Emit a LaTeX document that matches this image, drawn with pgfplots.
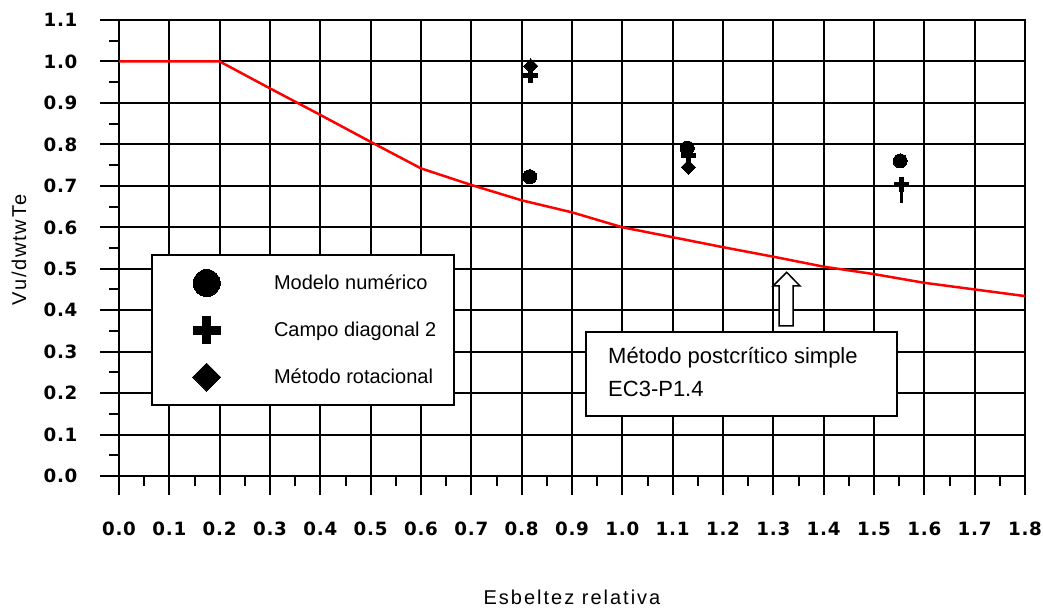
\documentclass[border=0pt]{standalone}
\usepackage{pgfplots}
\pgfplotsset{compat=1.18}
\usepackage{fontspec}
\setmainfont{Liberation Sans}
\newfontfamily\tickfont{DejaVu Sans}
\begin{document}
\begin{tikzpicture}[x=1pt,y=1pt]
\useasboundingbox (0,0) rectangle (1043,608);
\begin{axis}[
  at={(119pt,132pt)}, anchor=south west,
  scale only axis, width=906pt, height=456pt,
  xmin=0, xmax=1.8, ymin=0, ymax=1.1,
  xtick={0,0.1,0.2,0.3,0.4,0.5,0.6,0.7,0.8,0.9,1.0,1.1,1.2,1.3,1.4,1.5,1.6,1.7,1.8},
  ytick={0,0.1,0.2,0.3,0.4,0.5,0.6,0.7,0.8,0.9,1.0,1.1},
  minor x tick num=1, minor y tick num=1,
  grid=major, major grid style={black, line width=2pt},
  axis line style={line width=2pt},
  tick style={black, line width=2pt},
  major tick length=19pt, minor tick length=10pt,
  tick align=outside, tick pos=left,
  /pgf/number format/.cd, fixed, fixed zerofill, precision=1, assume math mode=true,
  /pgfplots/.cd,
  tick label style={font=\tickfont\bfseries\fontsize{18.3pt}{20pt}\selectfont\addfontfeatures{LetterSpace=4}},
  xticklabel style={yshift=-23pt, anchor=north, text height=13.5pt, text depth=0pt},
  yticklabel style={xshift=-19pt, anchor=east, text height=13.5pt, text depth=0pt},
  xlabel={Esbeltez relativa},
  xlabel style={at={(axis description cs:0.5,-0.2807)}, anchor=base,
    font=\fontsize{20pt}{24pt}\selectfont\addfontfeatures{LetterSpace=10}},
  ylabel={Vu/dwtwTe},
  ylabel style={at={(axis description cs:-0.1104,0.4956)}, anchor=center,
    font=\fontsize{20pt}{24pt}\selectfont\addfontfeatures{LetterSpace=9}},
  legend cell align=left,
  legend style={at={(axis cs:0.0636,0.5355)}, anchor=north west, draw=black,
    line width=2pt, fill=white, inner xsep=0pt, inner ysep=4.5pt,
    row sep=0pt, column sep=37.3pt,
    font=\fontsize{20pt}{24pt}\selectfont,
    nodes={inner sep=0pt, anchor=west}},
]
\addplot[red, line width=2.5pt, no marks, forget plot] coordinates {
(0,1.0) (0.2,1.0) (0.3,0.935) (0.4,0.871) (0.5,0.806) (0.6,0.742)
(0.7,0.702) (0.8,0.665) (0.9,0.636) (1.0,0.600) (1.1,0.576) (1.2,0.552)
(1.3,0.529) (1.4,0.505) (1.5,0.487) (1.6,0.466) (1.7,0.450) (1.8,0.434)};

\addplot[black, only marks, mark=*, mark size=7pt, mark options={line width=0pt},
  legend image code/.code={
    \path[draw=none, fill=none] (-54.7pt,-23.5pt) rectangle (30pt,23.5pt);
    \draw[black, line width=0pt, mark=*, mark size=13.5pt] plot coordinates {(0pt,0pt)};}]
  coordinates {(0.816,0.722) (1.129,0.791) (1.552,0.760)};
\addlegendentry{\makebox[180pt][l]{\rule[-5pt]{0pt}{19pt}Modelo numérico}}

\addplot[black, only marks, mark=+, mark size=7.5pt, mark options={line width=5pt},
  legend image code/.code={
    \path[draw=none, fill=none] (-54.7pt,-23.5pt) rectangle (30pt,23.5pt);
    \draw[black, mark=+, mark size=14pt, mark options={line width=9pt}] plot coordinates {(0pt,0pt)};}]
  coordinates {(0.818,0.966) (1.131,0.772) (1.555,0.704)};
\addlegendentry{\makebox[180pt][l]{\rule[-5pt]{0pt}{19pt}Campo diagonal 2}}

\addplot[black, only marks, mark=square*, mark size=5pt, mark options={rotate=45, line width=0pt},
  legend image code/.code={
    \path[draw=none, fill=none] (-54.7pt,-23.5pt) rectangle (30pt,23.5pt);
    \draw[black, mark=square*, mark size=9.9pt, mark options={rotate=45, line width=0pt}] plot coordinates {(0pt,0pt)};}]
  coordinates {(0.818,0.989) (1.131,0.745)};
\addlegendentry{\makebox[180pt][l]{\rule[-5pt]{0pt}{19pt}Método rotacional}}

\addplot[black, line width=3pt, no marks, forget plot] coordinates {(1.555,0.704) (1.555,0.658)};
\end{axis}
\draw[line width=2pt, fill=white] (585.7,192.3) rectangle (896.7,275.7);
\node[anchor=base west, inner sep=0pt, font=\fontsize{22pt}{26pt}\selectfont] at (608,244) {Método postcrítico simple};
\node[anchor=base west, inner sep=0pt, font=\fontsize{22pt}{26pt}\selectfont] at (608,211.3) {EC3-P1.4};
\draw[line width=1.5pt, fill=white] (786.7,335.7) -- (800,322) -- (793,322) -- (793,282) -- (779,282) -- (779,322) -- (773,322) -- cycle;
\end{tikzpicture}
\end{document}
